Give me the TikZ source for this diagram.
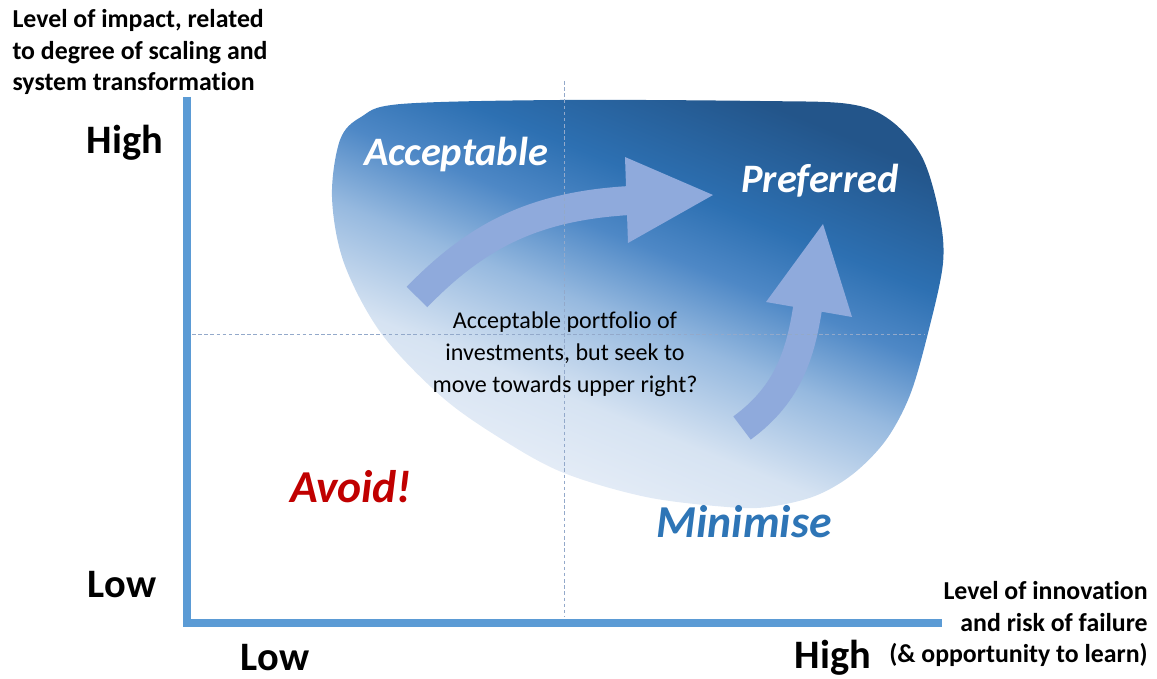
\documentclass[tikz,border=0pt]{standalone}
\usepackage{fontspec}
\setmainfont{Carlito}[RawFeature={-liga;-clig;-calt}]

\definecolor{axisblue}{HTML}{5B9BD5}
\definecolor{arrowblue}{HTML}{8FAADC}
\definecolor{guidegray}{HTML}{93A9CA}
\definecolor{avoidred}{HTML}{C00000}
\definecolor{minblue}{HTML}{2E75B6}
\definecolor{blobdark}{HTML}{23558A}
\definecolor{blobdeep}{HTML}{2D70B2}
\definecolor{blobmid}{HTML}{4E88C6}
\definecolor{blobsoft}{HTML}{96B9DF}
\definecolor{blobpale}{HTML}{D6E3F2}
\definecolor{bloblight}{HTML}{ECF1F9}

\pgfdeclareverticalshading{blobshade}{100bp}{color(0bp)=(bloblight); color(25bp)=(bloblight); color(38bp)=(blobpale); color(48bp)=(blobsoft); color(56bp)=(blobmid); color(63bp)=(blobdeep); color(75bp)=(blobdark); color(100bp)=(blobdark)}

\begin{document}
\begin{tikzpicture}[x=0.02cm, y=-0.02cm,
  axisline/.style={axisblue, line width=0.16cm, line join=miter},
  guide/.style={guidegray, line width=0.5pt, dash pattern=on 2pt off 1.5pt},
  arrowbody/.style={arrowblue, line width=0.58cm},
  caption/.style={font=\bfseries\fontsize{14.7}{18.1}\selectfont, inner sep=0pt},
  level/.style={font=\bfseries\fontsize{23}{27}\selectfont, inner sep=0pt},
  zone/.style={font=\bfseries\itshape\fontsize{23}{27}\selectfont, inner sep=0pt},
  warn/.style={font=\bfseries\itshape\fontsize{26}{30}\selectfont, inner sep=0pt}]

\useasboundingbox (0,0) rectangle (1157,679);

\shade[shading=blobshade, shading angle=-22] plot[smooth cycle, tension=0.55] coordinates {
  (332,197) (340,140) (361,117) (401,104) (560,100) (760,101) (849,104)
  (890,120) (922,157) (939,213) (943,263) (928,333) (910,395) (886,440)
  (853,474) (815,496) (768,507) (727,507) (646,497) (564,473) (503,440)
  (442,397) (381,333) (344,263)};

\draw[arrowbody] (417,297) .. controls (480,232) and (540,204) .. (640,200);
\fill[arrowblue] (625,157) -- (713,195) -- (628,243) -- cycle;
\draw[arrowbody] (742,428) .. controls (790,393) and (802,350) .. (809,298);
\fill[arrowblue] (766,302) -- (823,224) -- (852,317) -- cycle;

\draw[guide] (564,81) -- (564,617);
\draw[guide] (192,334) -- (925,334);

\coordinate (ytop) at (187,97);
\coordinate (origin) at (187,623);
\coordinate (xend) at (942,623);
\draw[axisline] (ytop) -- (origin) -- (xend);

\node[caption, align=left] (impact) at (140,52) {Level of impact, related\\to degree of scaling and\\system transformation};
\node[caption, align=right, anchor=east] (innovation) at (1148,624) {Level of innovation\\and risk of failure\\(\& opportunity to learn)};

\node[level] (yhigh) at (125,143) {High};
\node[level] (ylow) at (122,585) {Low};
\node[level] (xlow) at (275,658) {Low};
\node[level] (xhigh) at (833,658) {High};

\node[zone, white] (acceptable) at (456,155) {Acceptable};
\node[zone, white] (preferred) at (820,181) {Preferred};
\node[warn, avoidred] (avoid) at (351,487) {Avoid!};
\node[warn, minblue] (minimise) at (744,522) {Minimise};

\node[inner sep=0pt, align=center, font=\fontsize{13.7}{18.1}\selectfont] (portfolio) at (565,354) {Acceptable portfolio of\\investments, but seek to\\move towards upper right?};

\end{tikzpicture}
\end{document}
